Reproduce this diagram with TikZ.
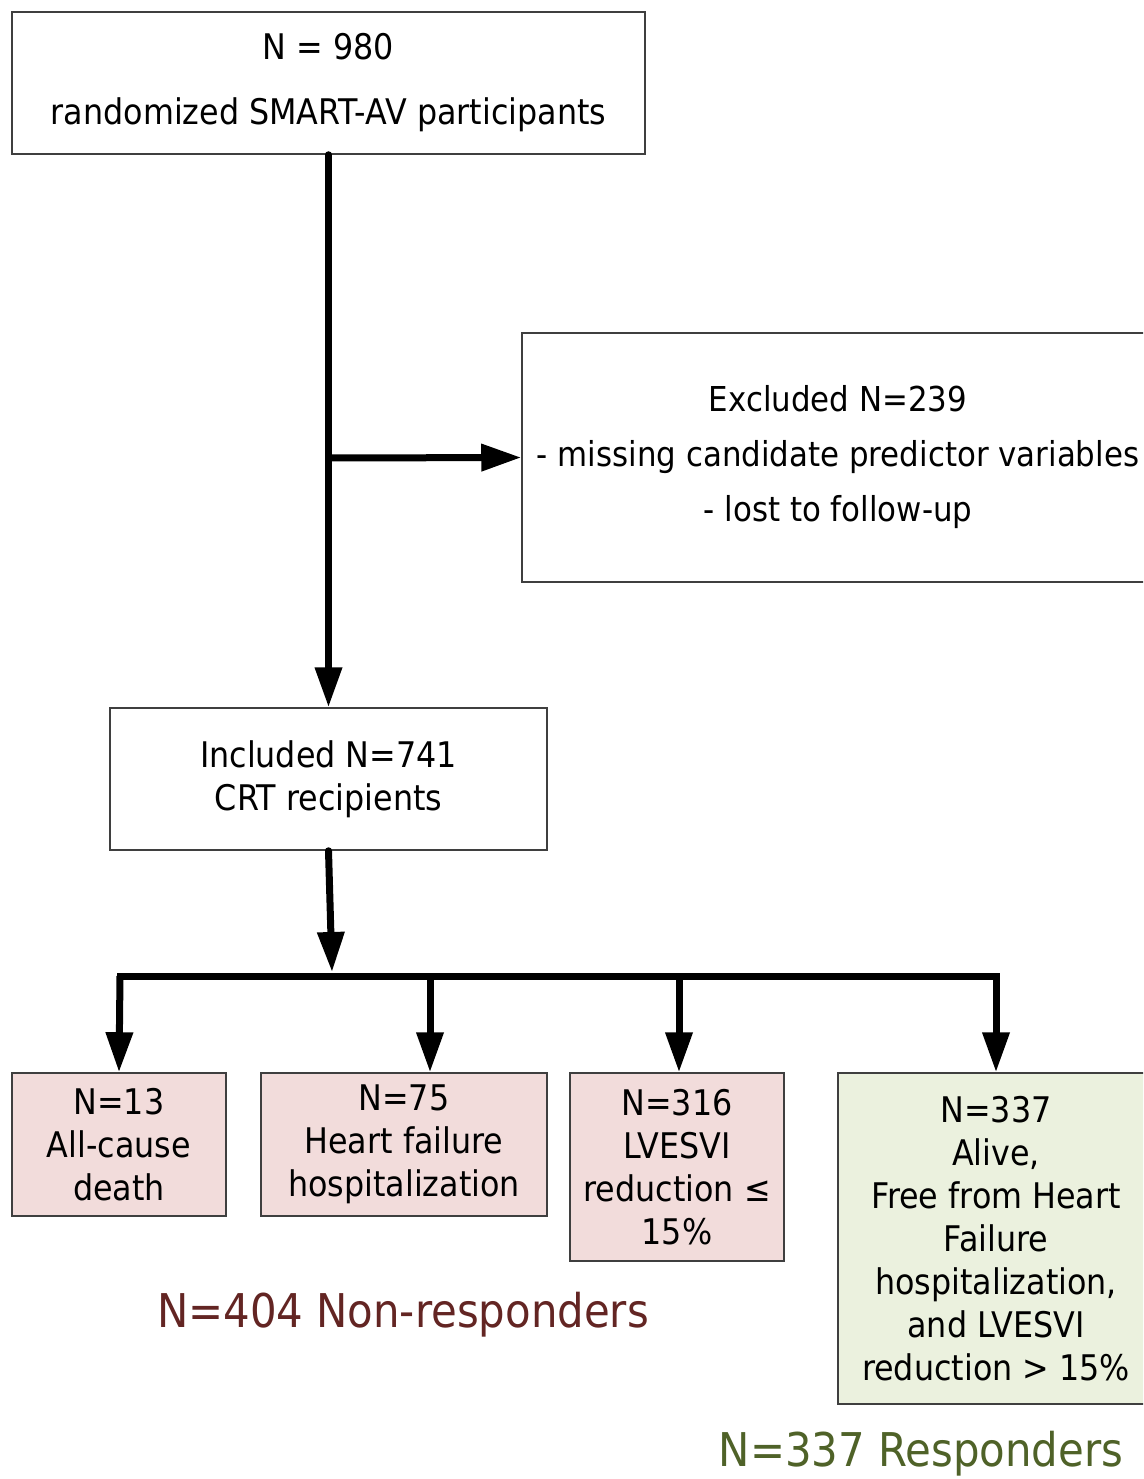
\documentclass[tikz,border=0pt]{standalone}
\usepackage{fontspec}
\setmainfont{DejaVu Sans}[FakeStretch=0.9]
\usetikzlibrary{arrows.meta}
\definecolor{pinkfill}{HTML}{F2DCDB}
\definecolor{greenfill}{HTML}{EBF1DE}
\definecolor{bordercol}{HTML}{3F3F3F}
\definecolor{nonresp}{HTML}{632523}
\definecolor{resp}{HTML}{4F6228}
\tikzset{
  box/.style={draw=bordercol, line width=1.5pt, align=center, inner sep=0pt,
              font=\fontsize{35.3}{43}\selectfont},
  conn/.style={line width=7pt, black},
  arr/.style={conn, -{Triangle[length=40pt,width=26pt]}},
  biglabel/.style={font=\fontsize{46.5}{52}\selectfont, anchor=base, inner sep=0pt}
}
\begin{document}
\begin{tikzpicture}[x=1pt,y=-1pt]
\clip (0,0) rectangle (1143,1479);
\fill[white] (0,0) rectangle (1143,1479);

\node[box, minimum width=633pt, minimum height=142pt,
      font=\fontsize{35.3}{65}\selectfont] (top) at (328.5,83)
      {N = 980\\randomized SMART-AV participants};
\node[box, minimum width=632pt, minimum height=249pt,
      font=\fontsize{34.3}{55}\selectfont] (excl) at (838,457.5)
      {Excluded N=239\\- missing candidate predictor variables\\- lost to follow-up};
\node[box, minimum width=437pt, minimum height=142pt] (incl) at (328.5,779)
      {Included N=741\\CRT recipients};

\node[box, fill=pinkfill, minimum width=214pt, minimum height=143pt] (b1) at (119,1144.5)
      {N=13\\All-cause\\death};
\node[box, fill=pinkfill, minimum width=286pt, minimum height=143pt] (b2) at (404,1144.5)
      {N=75\\Heart failure\\hospitalization};
\node[box, fill=pinkfill, minimum width=214pt, minimum height=188pt] (b3) at (677,1167)
      {N=316\\LVESVI\\reduction ≤\\15\%};
\node[box, fill=greenfill, minimum width=316pt, minimum height=331pt] (b4) at (996,1238.5)
      {N=337\\Alive,\\Free from Heart\\Failure\\hospitalization,\\and LVESVI\\reduction > 15\%};

\node[biglabel, text=nonresp] (nr) at (403,1327) {N=404 Non-responders};
\node[biglabel, text=resp] (rs) at (921,1466) {N=337 Responders};

% connectors
\coordinate (j1) at (328.5,458);
\coordinate (jb) at (332,972);
\coordinate (bl) at (120,976);
\coordinate (br) at (996,976);
\coordinate (d2) at (430,976);
\coordinate (d3) at (679,976);

\draw[arr, line cap=round] (top.south) -- (incl.north);
\draw[arr] (j1) -- (excl.west);
\draw[arr, line cap=round] (incl.south) -- (jb);
\draw[conn, line cap=rect] (bl) -- (br);
\draw[arr] (bl) -- (b1.north);
\draw[arr] (d2) -- (d2 |- b2.north);
\draw[arr] (d3) -- (d3 |- b3.north);
\draw[arr] (br) -- (br |- b4.north);
\end{tikzpicture}
\end{document}
